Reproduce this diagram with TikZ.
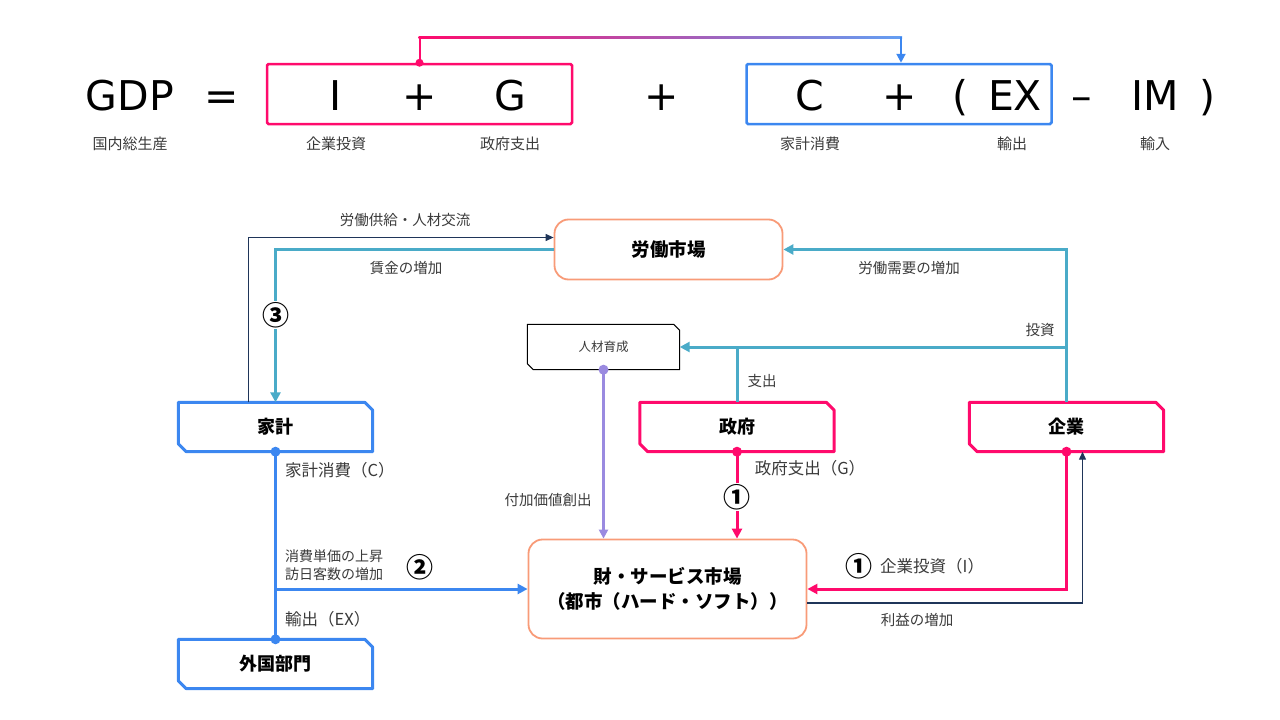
\documentclass[tikz,border=0pt]{standalone}
\usepackage{fontspec}
\setmainfont{Noto Sans CJK JP}
\newfontfamily\eqfont{DejaVu Sans}
\usetikzlibrary{arrows.meta,positioning,calc}
\definecolor{gdppink}{HTML}{FF0A6C}
\definecolor{gdpblue}{HTML}{3C87F0}
\definecolor{gdpteal}{HTML}{4AABC8}
\definecolor{gdporange}{HTML}{F89B78}
\definecolor{gdpnavy}{HTML}{1F3559}
\definecolor{gdppurple}{HTML}{9A8AE0}
\definecolor{gdptext}{HTML}{3A3A3A}
\newcommand{\fsz}[2]{\fontsize{#1}{#2}\selectfont}
% outline with the north-east and south-west corners cut off
\newcommand{\cutframe}[3]{%
  \draw[#2] (#1.north west) -- ([xshift=-#3]#1.north east) -- ([yshift=-#3]#1.north east)
    -- (#1.south east) -- ([xshift=#3]#1.south west) -- ([yshift=#3]#1.south west) -- cycle;}

\begin{document}
\begin{tikzpicture}[x=1pt, y=-1pt,
  eqsym/.style={font=\eqfont\fsz{41}{48}, anchor=base, inner sep=0pt},
  eqlbl/.style={font=\fsz{15}{18}, text=gdptext, inner sep=0pt},
  eqbox/.style={draw, line width=2.5pt, rounded corners=1.5pt, minimum width=305pt, minimum height=60pt},
  sector/.style={rectangle, minimum width=194pt, minimum height=49pt, inner sep=0pt,
    font=\bfseries\fsz{18}{22}},
  sectorline/.style={line width=3pt, line join=round},
  market/.style={draw=gdporange, line width=1.8pt, rounded corners=14pt, fill=white,
    inner sep=0pt, align=center, font=\bfseries\fsz{18.5}{25}},
  flowlbl/.style={font=\fsz{14.5}{19}, text=gdptext, inner sep=1pt},
  biglbl/.style={font=\fsz{16.5}{20}, text=gdptext, inner sep=1pt},
  num/.style={font=\bfseries\fsz{27}{29}, fill=white, inner sep=1pt},
  tealarr/.style={draw=gdpteal, line width=3pt, -{Triangle[length=10pt,width=10pt]}},
  tealline/.style={draw=gdpteal, line width=3pt},
  pinkarr/.style={draw=gdppink, line width=3pt, -{Triangle[length=10pt,width=10pt]}},
  bluearr/.style={draw=gdpblue, line width=3pt, -{Triangle[length=10pt,width=10pt]}},
  blueline/.style={draw=gdpblue, line width=3pt},
  navyarr/.style={draw=gdpnavy, line width=1.2pt, -{Triangle[length=8pt,width=7pt]}},
  purplearr/.style={draw=gdppurple, line width=2.5pt, -{Triangle[length=9pt,width=9pt]}}
]
\useasboundingbox (0,0) rectangle (1280,720);

% equation
\node[eqbox, draw=gdppink] (ibox) at (419.5,94) {};
\node[eqbox, draw=gdpblue] (cbox) at (899,94) {};
\node[eqsym] (gdp) at (130,110) {GDP};
\node[eqsym] (eq) at (222,110) {=};
\node[eqsym] (symI) at (336,110) {I};
\node[eqsym] (plusA) at (420,110) {+};
\node[eqsym] (symG) at (510,110) {G};
\node[eqsym] (plusB) at (662,110) {+};
\node[eqsym] (symC) at (810,110) {C};
\node[eqsym] (plusC) at (900,110) {+};
\node[eqsym] (lpar) at (960,110) {(};
\node[eqsym] (symEX) at (1015,110) {EX};
\node[eqsym] (minus) at (1082,110) {–};
\node[eqsym] (symIM) at (1155,110) {IM};
\node[eqsym] (rpar) at (1207,110) {)};
\node[eqlbl] at (130,144) {国内総生産};
\node[eqlbl] at (336,144) {企業投資};
\node[eqlbl] at (510,144) {政府支出};
\node[eqlbl] at (810,144) {家計消費};
\node[eqlbl] at (1012,144) {輸出};
\node[eqlbl] at (1155,144) {輸入};
% link between the two boxes
\coordinate (topy) at (0,37);
\coordinate (linkR) at (901,37);
\draw[gdppink, line width=2pt] (ibox.north) -- (ibox.north |- topy);
\shade[left color=gdppink, right color=gdpblue!80] ($(ibox.north |- topy)+(-1,-1)$) rectangle ($(linkR)+(1,1)$);
\draw[gdpblue, line width=2pt, -{Triangle[length=9pt,width=9pt]}] (linkR) -- (linkR |- cbox.north);
\fill[gdppink] (ibox.north) circle (4pt);

% nodes
\node[market] (labor) at (668.5,249.5) {\parbox[c][60pt][c]{228pt}{\centering 労働市場}};
\node[rectangle, minimum width=152pt, minimum height=45pt, inner sep=0pt,
  font=\fsz{12.5}{15}, text=gdptext] (talent) at (603.5,347) {人材育成};
\cutframe{talent}{line width=1pt, line join=round}{6pt}
\node[sector] (household) at (275.5,427) {家計};
\cutframe{household}{sectorline, gdpblue}{8pt}
\node[sector] (govt) at (737,427) {政府};
\cutframe{govt}{sectorline, gdppink}{8pt}
\node[sector] (firm) at (1066.5,427) {企業};
\cutframe{firm}{sectorline, gdppink}{8pt}
\node[sector] (foreign) at (275.5,664) {外国部門};
\cutframe{foreign}{sectorline, gdpblue}{8pt}
\node[market] (goods) at (667.5,589) {\parbox[c][99pt][c]{278pt}{\centering 財・サービス市場\\（都市（ハード・ソフト））}};

% labour market loop
\draw[navyarr] ([xshift=-27pt]household.north) |- ([yshift=12pt]labor.west);
\node[flowlbl] at (405,220) {労働供給・人材交流};
\draw[tealarr] (labor.west) -| (household.north);
\node[flowlbl] at (406,268) {賃金の増加};
\node[num] at (276,315) {③};
\draw[tealarr] (firm.north) |- (labor.east);
\node[flowlbl] at (909,268) {労働需要の増加};
\draw[tealarr] (firm.north |- talent.east) -- (talent.east);
\draw[tealline] (govt.north) -- (govt.north |- talent.east);
\node[flowlbl] at (1040,330) {投資};
\node[flowlbl] at (762,381) {支出};

% value creation
\draw[purplearr] (talent.south) -- (talent.south |- goods.north);
\fill[gdppurple] (talent.south) circle (5pt);
\node[flowlbl] at (548,500) {付加価値創出};

% government spending
\draw[pinkarr] (govt.south) -- (govt.south |- goods.north);
\fill[gdppink] (govt.south) circle (5pt);
\node[biglbl] at (810,468) {政府支出（G）};
\node[num] at (737,497) {①};

% business investment
\draw[pinkarr] (firm.south) |- (goods.east);
\fill[gdppink] (firm.south) circle (5pt);
\node[num] at (859,566) {①};
\node[biglbl, right] at (879,566) {企業投資（I）};
\draw[navyarr] ([yshift=-14pt]goods.east) -| ([xshift=16pt]firm.south);
\node[flowlbl] at (917,620) {利益の増加};

% consumption and exports
\draw[blueline] (household.south) -- (foreign.north);
\draw[bluearr] (household.south |- goods.west) -- (goods.west);
\fill[gdpblue] (household.south) circle (5pt);
\fill[gdpblue] (foreign.north) circle (5pt);
\node[biglbl, right] at (284,470) {家計消費（C）};
\node[flowlbl, right, align=left, font=\fsz{14}{18}] at (284,565) {消費単価の上昇\\訪日客数の増加};
\node[num] at (420,567) {②};
\node[biglbl, right] at (284,619) {輸出（EX）};
\end{tikzpicture}
\end{document}
